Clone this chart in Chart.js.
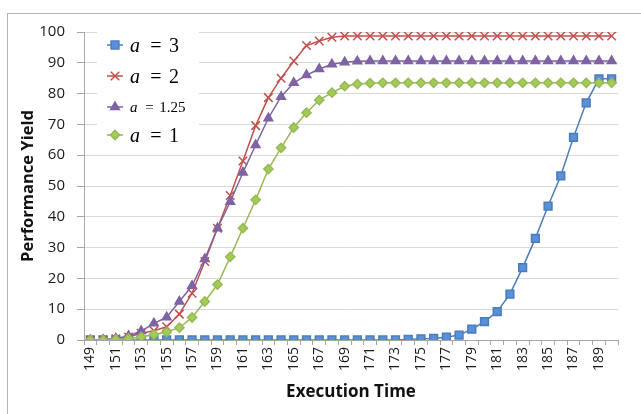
<!DOCTYPE html>
<html>
<head>
<meta charset="utf-8">
<script src="https://cdn.jsdelivr.net/npm/chart.js@4/dist/chart.umd.min.js"></script>
<style>
    body {margin: 0; background: #fff; overflow: hidden;}
    #wrap {position: relative; width: 641px; height: 414px;}
    #frame {position: absolute; left: 7px; top: 13px; width: 700px; height: 500px; border: 1px solid #b3b3b3; box-sizing: border-box;}
    #c {position: absolute; left: 0; top: 0;}
</style>
</head>
<body>
<div id="wrap">
    <div id="frame"></div>
    <canvas id="c" width="641" height="414"></canvas>
</div>
<script>
var execTime = [149, 150, 151, 152, 153, 154, 155, 156, 157, 158, 159, 160, 161, 162, 163, 164, 165, 166, 167, 168, 169,
    170, 171, 172, 173, 174, 175, 176, 177, 178, 179, 180, 181, 182, 183, 184, 185, 186, 187, 188, 189, 190]
// a = 3
var yieldA3 = [0, 0, 0, 0, 0, 0, 0, 0, 0, 0, 0, 0, 0, 0, 0, 0, 0, 0, 0, 0, 0,
    0, 0, 0, 0, 0.2, 0.4, 0.5, 0.9, 1.6, 3.5, 6, 9.2, 14.9, 23.5, 33, 43.5, 53.3, 65.8, 77, 84.8, 84.8]
// a = 2
var yieldA2 = [0, 0, 0.4, 1, 2.2, 3, 4.3, 8.4, 15.2, 25.5, 36.3, 46.9, 58.1, 69.6, 78.7, 85, 90.6, 95.6, 97.1, 98.3, 98.7,
    98.7, 98.7, 98.7, 98.7, 98.7, 98.7, 98.7, 98.7, 98.7, 98.7, 98.7, 98.7, 98.7, 98.7, 98.7, 98.7, 98.7, 98.7, 98.7, 98.7, 98.7]
// a = 1.25
var yieldA125 = [0, 0.1, 0.5, 1.3, 2.9, 5.4, 7.4, 12.5, 17.6, 26.3, 36.3, 44.9, 54.4, 63.3, 72, 79, 83.5, 86, 88, 89.5, 90.2,
    90.5, 90.6, 90.6, 90.6, 90.6, 90.6, 90.6, 90.6, 90.6, 90.6, 90.6, 90.6, 90.6, 90.6, 90.6, 90.6, 90.6, 90.6, 90.6, 90.6, 90.6]
// a = 1
var yieldA1 = [0, 0, 0.2, 0.5, 1, 1.8, 2.6, 4, 7.3, 12.5, 18, 27, 36.3, 45.5, 55.5, 62.4, 69, 73.8, 77.9, 80.3, 82.4,
    83.1, 83.4, 83.5, 83.5, 83.5, 83.5, 83.5, 83.5, 83.5, 83.5, 83.5, 83.5, 83.5, 83.5, 83.5, 83.5, 83.5, 83.5, 83.5, 83.5, 83.5]

var seriesLabels = ["3", "2", "1.25", "1"]
var yTicks = [0, 10, 20, 30, 40, 50, 60, 70, 80, 90, 100]

var series = [
    {num: seriesLabels[0], data: yieldA3, line: "#4A7EBB", fill: "#5A8FD9", style: "rect", r: 5.5, order: 4},
    {num: seriesLabels[1], data: yieldA2, line: "#C0504D", fill: "#C0504D", style: "crossRot", r: 6, order: 3},
    {num: seriesLabels[2], data: yieldA125, line: "#7E62A3", fill: "#8064A2", style: "triangle", r: 5, order: 2},
    {num: seriesLabels[3], data: yieldA1, line: "#98B954", fill: "#A2CC58", style: "rectRot", r: 4.6, order: 1}
]

function drawMarker(ctx, s, x, y){
    if(Chart.helpers && Chart.helpers.drawPoint){
        ctx.fillStyle = s.fill
        ctx.strokeStyle = s.line
        ctx.lineWidth = 1.5
        Chart.helpers.drawPoint(ctx, {pointStyle: s.style, radius: s.r, rotation: 0, borderWidth: 1.5}, x, y)
    }
}

// legend with math style labels: italic a, upright number
var mathLegend = {
    id: "mathLegend",
    beforeDatasetsDraw: function(chart){
        var ctx = chart.ctx
        var area = chart.chartArea
        var lx = area.left + 13
        ctx.save()
        ctx.fillStyle = "#fff"
        ctx.fillRect(lx, area.top - 6, 102, 124)
        var rows = [45, 76, 107, 135]
        var sizes = [20, 20, 15, 20]
        for(var i = 0; i < series.length; i++){
            var s = series[i]
            var y = rows[i]
            ctx.strokeStyle = s.line
            ctx.lineWidth = 1.5
            ctx.beginPath()
            ctx.moveTo(lx + 10, y)
            ctx.lineTo(lx + 26, y)
            ctx.stroke()
            drawMarker(ctx, s, lx + 18, y)
            var fs = sizes[i]
            var tx = lx + 33
            ctx.fillStyle = "#000"
            ctx.textBaseline = "alphabetic"
            ctx.textAlign = "left"
            ctx.font = "italic " + fs + "px 'Liberation Serif'"
            ctx.fillText("a", tx, y + fs * 0.33)
            ctx.font = fs + "px 'Liberation Serif'"
            ctx.textAlign = "center"
            ctx.fillText("=", tx + fs * 1.3, y + fs * 0.33)
            ctx.textAlign = "left"
            ctx.fillText(s.num, tx + fs * 1.95, y + fs * 0.33)
        }
        ctx.restore()
    }
}

var datasets = series.map((s)=>{
    return {
        label: "a = " + s.num,
        data: s.data,
        borderColor: s.line,
        backgroundColor: s.fill,
        borderWidth: 1.5,
        pointStyle: s.style,
        pointRadius: s.r,
        pointBackgroundColor: s.fill,
        pointBorderColor: s.line,
        pointBorderWidth: 1.5,
        tension: 0,
        order: s.order
    }
})

new Chart(document.getElementById("c"), {
    type: 'line',
    data: {labels: execTime, datasets: datasets},
    plugins: [mathLegend],
    options: {
        responsive: false,
        animation: false,
        layout: {padding: {top: 32, right: 23, left: 0, bottom: 0}},
        plugins: {legend: {display: false}, tooltip: {enabled: false}},
        scales: {
            x: {
                offset: true,
                afterFit: function(scale){scale.height = 74},
                grid: {display: true, drawOnChartArea: false, drawTicks: true, tickLength: 5, offset: true, tickColor: "#a6a6a6"},
                border: {color: "#a6a6a6"},
                ticks: {autoSkip: false, minRotation: 90, maxRotation: 90, padding: 2, color: "#1a1a1a",
                    font: {family: "'Open Sans'", size: 14},
                    callback: function(value, index){return index % 2 == 0 ? execTime[index] : ""}},
                title: {display: true, text: "Execution Time", color: "#111", padding: {top: 0, bottom: 12},
                    font: {family: "'Open Sans'", size: 17, weight: "bold"}}
            },
            y: {
                min: 0, max: 100,
                afterFit: function(scale){scale.width = 84},
                afterBuildTicks: function(scale){scale.ticks = yTicks.map((v)=>{return {value: v}})},
                grid: {color: "#d9d9d9", tickColor: "#a6a6a6", tickLength: 7},
                border: {color: "#a6a6a6"},
                ticks: {padding: 12, color: "#1a1a1a", font: {family: "'Open Sans'", size: 15}},
                title: {display: true, text: "Performance Yield", color: "#111", padding: {top: 18, bottom: 0},
                    font: {family: "'Open Sans'", size: 16.5, weight: "bold"}}
            }
        }
    }
})
</script>
</body>
</html>
